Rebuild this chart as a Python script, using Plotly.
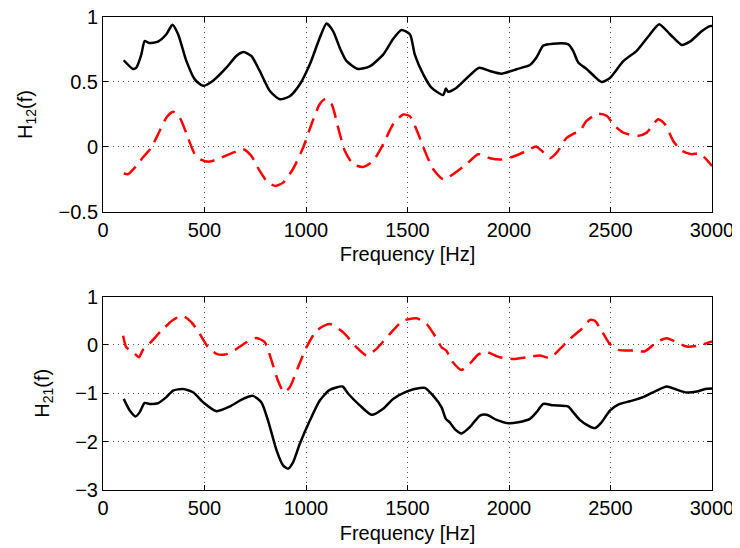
import plotly.graph_objects as go
from plotly.subplots import make_subplots

# ---- data ----
f_h12_solid = [102, 148, 164, 189, 205, 227, 271, 312, 342, 370, 411, 452, 493, 542, 608, 657, 693, 731, 772, 822, 871, 920, 969, 1019, 1068, 1101, 1134, 1167, 1200, 1257, 1314, 1380, 1429, 1470, 1512, 1536, 1577, 1618, 1676, 1689, 1700, 1742, 1799, 1853, 1906, 1963, 2037, 2103, 2136, 2169, 2218, 2292, 2316, 2341, 2382, 2423, 2456, 2497, 2563, 2629, 2686, 2740, 2793, 2851, 2891, 2949, 2990, 3000]
h12_solid = [0.667, 0.60, 0.61, 0.713, 0.815, 0.80, 0.81, 0.867, 0.94, 0.867, 0.66, 0.52, 0.47, 0.51, 0.61, 0.70, 0.73, 0.70, 0.585, 0.43, 0.367, 0.39, 0.48, 0.636, 0.84, 0.95, 0.89, 0.76, 0.66, 0.60, 0.62, 0.71, 0.83, 0.90, 0.867, 0.71, 0.56, 0.456, 0.40, 0.45, 0.425, 0.456, 0.54, 0.61, 0.585, 0.564, 0.598, 0.63, 0.69, 0.78, 0.795, 0.79, 0.74, 0.65, 0.60, 0.54, 0.50, 0.53, 0.66, 0.74, 0.85, 0.945, 0.867, 0.785, 0.81, 0.89, 0.93, 0.93]

f_h12_dashed = [102, 123, 164, 197, 238, 279, 312, 345, 378, 419, 452, 485, 526, 575, 641, 690, 731, 772, 813, 851, 887, 936, 986, 1027, 1068, 1096, 1126, 1158, 1191, 1232, 1281, 1331, 1380, 1429, 1479, 1512, 1553, 1585, 1626, 1676, 1725, 1791, 1848, 1906, 1963, 2029, 2087, 2133, 2161, 2201, 2235, 2284, 2316, 2349, 2382, 2440, 2481, 2522, 2563, 2637, 2678, 2735, 2768, 2809, 2851, 2900, 2941, 3000]
h12_dashed = [-0.205, -0.21, -0.146, -0.08, -0.005, 0.123, 0.225, 0.27, 0.225, 0.07, -0.056, -0.10, -0.113, -0.087, -0.044, -0.018, -0.07, -0.185, -0.275, -0.30, -0.275, -0.17, -0.005, 0.175, 0.33, 0.37, 0.33, 0.15, -0.03, -0.133, -0.154, -0.108, 0.02, 0.175, 0.25, 0.235, 0.10, -0.03, -0.17, -0.25, -0.21, -0.133, -0.056, -0.087, -0.097, -0.07, -0.03, 0.003, -0.03, -0.087, -0.044, 0.07, 0.10, 0.123, 0.20, 0.256, 0.24, 0.16, 0.11, 0.085, 0.11, 0.213, 0.175, 0.046, -0.03, -0.056, -0.05, -0.146]

f_h21_solid = [102, 132, 160, 181, 205, 230, 271, 312, 345, 394, 444, 493, 559, 624, 690, 739, 780, 813, 855, 887, 912, 936, 969, 1019, 1068, 1117, 1180, 1208, 1265, 1323, 1380, 1429, 1495, 1561, 1585, 1626, 1668, 1689, 1708, 1733, 1766, 1807, 1857, 1890, 1939, 1996, 2045, 2103, 2136, 2169, 2218, 2292, 2316, 2349, 2390, 2423, 2456, 2497, 2538, 2596, 2661, 2727, 2777, 2826, 2875, 2925, 2966, 3000]
h21_solid = [-1.116, -1.357, -1.48, -1.39, -1.20, -1.22, -1.206, -1.08, -0.944, -0.91, -0.98, -1.186, -1.37, -1.275, -1.116, -1.054, -1.186, -1.564, -2.18, -2.49, -2.56, -2.43, -2.05, -1.564, -1.15, -0.93, -0.86, -1.01, -1.25, -1.446, -1.32, -1.116, -0.965, -0.89, -0.89, -1.05, -1.29, -1.53, -1.60, -1.74, -1.83, -1.70, -1.46, -1.446, -1.55, -1.62, -1.60, -1.53, -1.39, -1.22, -1.25, -1.275, -1.39, -1.55, -1.67, -1.72, -1.60, -1.357, -1.233, -1.165, -1.08, -0.944, -0.86, -0.925, -0.985, -0.965, -0.91, -0.90]

f_h21_dashed = [99, 115, 148, 177, 197, 230, 288, 345, 394, 436, 477, 518, 559, 600, 649, 707, 756, 797, 830, 862, 891, 920, 961, 1002, 1052, 1117, 1183, 1249, 1298, 1347, 1413, 1479, 1545, 1594, 1635, 1668, 1692, 1717, 1766, 1807, 1848, 1890, 1955, 2021, 2087, 2152, 2201, 2251, 2300, 2358, 2399, 2423, 2456, 2497, 2538, 2612, 2669, 2727, 2777, 2826, 2875, 2932, 3000]
h21_dashed = [0.19, -0.05, -0.15, -0.256, -0.10, 0.033, 0.295, 0.516, 0.60, 0.467, 0.227, -0.05, -0.186, -0.20, -0.104, 0.055, 0.145, 0.055, -0.32, -0.74, -0.98, -0.876, -0.46, -0.05, 0.295, 0.43, 0.26, -0.05, -0.22, -0.083, 0.227, 0.50, 0.55, 0.434, 0.19, -0.05, -0.12, -0.325, -0.517, -0.39, -0.20, -0.15, -0.256, -0.29, -0.256, -0.22, -0.27, -0.083, 0.124, 0.33, 0.516, 0.50, 0.295, 0.02, -0.104, -0.118, -0.132, 0.055, 0.137, 0.055, -0.035, -0.015, 0.07]

x_ticks = [0, 500, 1000, 1500, 2000, 2500, 3000]
y1_ticks = [-0.5, 0, 0.5, 1]
y1_labels = ["\u22120.5", "0", "0.5", "1"]
y2_ticks = [-3, -2, -1, 0, 1]
y2_labels = ["\u22123", "\u22122", "\u22121", "0", "1"]

FONT = "Liberation Sans, Arial, sans-serif"

fig = make_subplots(rows=2, cols=1, vertical_spacing=0.18)

line_solid = dict(color="black", width=2.5, shape="spline", smoothing=0.6)
line_dash = dict(color="#ff0000", width=2.5, dash="15px,8px", shape="spline", smoothing=0.6)

fig.add_trace(go.Scatter(x=f_h12_solid, y=h12_solid, mode="lines", line=line_solid), row=1, col=1)
fig.add_trace(go.Scatter(x=f_h12_dashed, y=h12_dashed, mode="lines", line=line_dash), row=1, col=1)
fig.add_trace(go.Scatter(x=f_h21_dashed, y=h21_dashed, mode="lines", line=line_dash), row=2, col=1)
fig.add_trace(go.Scatter(x=f_h21_solid, y=h21_solid, mode="lines", line=line_solid), row=2, col=1)

axis_common = dict(
    showline=True, linecolor="black", linewidth=1, mirror="allticks",
    ticks="inside", ticklen=5, tickcolor="black", tickwidth=1,
    showgrid=True, gridcolor="#555555", gridwidth=1, griddash="1px,4px",
    zeroline=False, tickfont=dict(family=FONT, size=20, color="black"),
    automargin=False, ticklabeloverflow="allow",
)

for r in (1, 2):
    fig.update_xaxes(range=[0, 3000], tickvals=x_ticks, ticktext=[str(v) for v in x_ticks],
                     title=dict(text="Frequency [Hz]", font=dict(family=FONT, size=20, color="black"), standoff=7),
                     row=r, col=1, **axis_common)

fig.update_yaxes(range=[-0.5, 1], tickvals=y1_ticks, ticktext=y1_labels,
                 title=dict(text="H<sub>12</sub>(f)", font=dict(family=FONT, size=20, color="black"), standoff=20),
                 row=1, col=1, **axis_common)
fig.update_yaxes(range=[-3, 1], tickvals=y2_ticks, ticktext=y2_labels,
                 title=dict(text="H<sub>21</sub>(f)", font=dict(family=FONT, size=20, color="black"), standoff=20),
                 row=2, col=1, **axis_common)

# the page places the figure 8 px in from the top-left corner
fig.update_layout(
    width=732, height=540,
    margin=dict(l=95, r=28, t=9, b=58),
    paper_bgcolor="white", plot_bgcolor="white",
    showlegend=False,
    font=dict(family=FONT, color="black"),
)
fig.layout.yaxis.domain = [0.588, 1.0]
fig.layout.yaxis2.domain = [0.0, 0.409]

fig.write_html("out.html")
